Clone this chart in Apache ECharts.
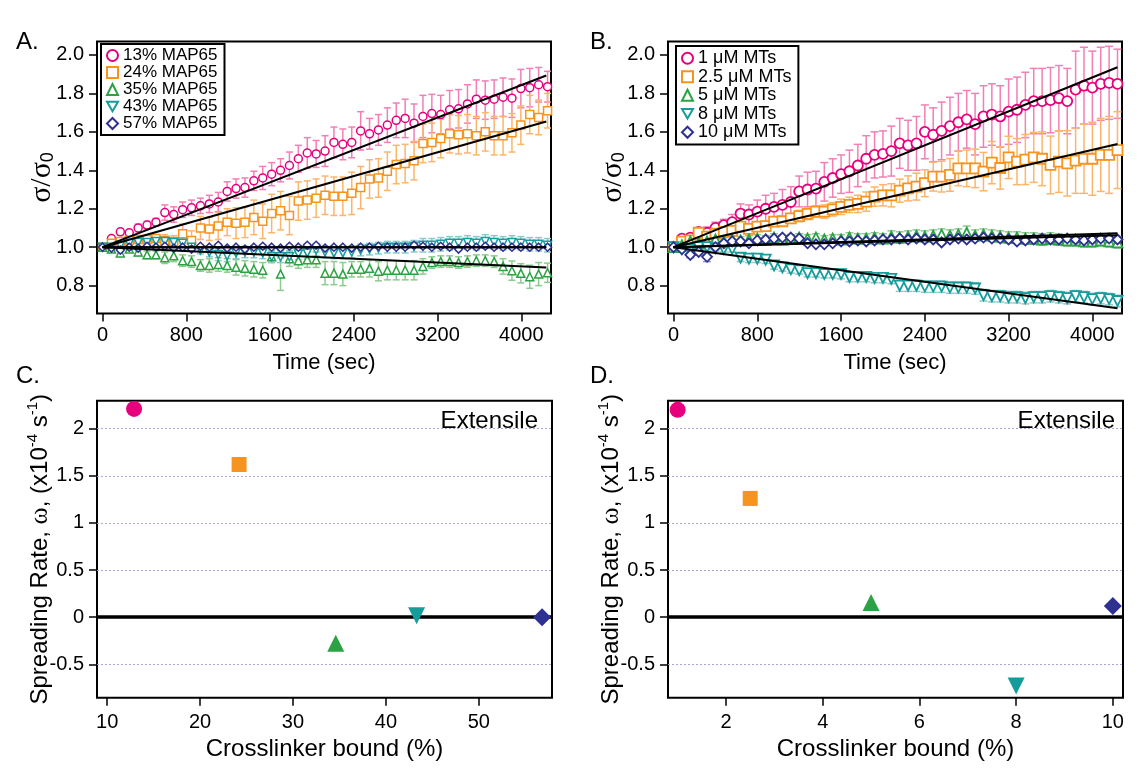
<!DOCTYPE html>
<html lang="en">
<head>
<meta charset="UTF-8">
<title>Spreading rate vs crosslinker</title>
<script src="https://cdn.jsdelivr.net/npm/echarts@6/dist/echarts.min.js"></script>
<style>
    html, body { margin: 0; padding: 0; background: #fff; }
    #chart { width: 1142px; height: 780px; }
</style>
</head>
<body>
<div id="chart"></div>
<script>
// ---- data ----
// time points (sec), panel A and B
const timeA = [0,85,170,255,340,425,510,595,680,765,850,935,1020,1105,1190,1275,1360,1445,1530,1615,
    1700,1785,1870,1955,2040,2125,2210,2295,2380,2465,2550,2635,2720,2805,2890,2975,3060,3145,3230,3315,
    3400,3485,3570,3655,3740,3825,3910,3995,4080,4165,4250];
const timeB = [0,80,160,240,320,400,480,560,640,720,800,880,960,1040,1120,1200,1280,1360,1440,1520,
    1600,1680,1760,1840,1920,2000,2080,2160,2240,2320,2400,2480,2560,2640,2720,2800,2880,2960,3040,3120,
    3200,3280,3360,3440,3520,3600,3680,3760,3840,3920,4000,4080,4160,4240];

// panel A: sigma/sigma0 for 13/24/35/43/57 % MAP65
const map13 = [1.00,1.045,1.08,1.075,1.10,1.115,1.13,1.18,1.17,1.195,
    1.205,1.215,1.225,1.235,1.29,1.305,1.31,1.345,1.36,1.38,
    1.40,1.425,1.46,1.49,1.485,1.50,1.545,1.535,1.545,1.605,
    1.59,1.61,1.635,1.66,1.67,1.645,1.68,1.695,1.69,1.715,
    1.72,1.745,1.77,1.765,1.77,1.78,1.775,1.825,1.83,1.845,1.835];
const map13Err = [0,0.01,0.015,0.015,0.02,0.02,0.02,0.04,0.04,0.04,
    0.04,0.04,0.045,0.05,0.05,0.05,0.05,0.05,0.06,0.06,
    0.06,0.07,0.07,0.08,0.07,0.08,0.08,0.08,0.08,0.1,
    0.08,0.08,0.09,0.09,0.1,0.1,0.11,0.1,0.1,0.1,
    0.1,0.1,0.1,0.1,0.1,0.1,0.1,0.1,0.1,0.09,0.08];
const map24 = [1.00,1.02,1.03,1.035,1.04,1.04,1.045,1.035,1.03,1.07,
    1.035,1.10,1.095,1.11,1.13,1.125,1.13,1.155,1.135,1.175,
    1.19,1.165,1.24,1.245,1.255,1.27,1.265,1.265,1.28,1.31,
    1.355,1.36,1.395,1.43,1.435,1.45,1.54,1.545,1.565,1.59,
    1.585,1.59,1.58,1.60,1.58,1.58,1.595,1.635,1.69,1.675,1.71];
const map24Err = [0,0.01,0.015,0.02,0.02,0.02,0.02,0.03,0.03,0.05,
    0.05,0.06,0.06,0.07,0.07,0.08,0.08,0.09,0.09,0.1,
    0.1,0.1,0.1,0.1,0.1,0.1,0.1,0.1,0.11,0.11,
    0.1,0.1,0.1,0.1,0.1,0.1,0.1,0.1,0.1,0.1,
    0.1,0.1,0.1,0.1,0.1,0.1,0.1,0.1,0.1,0.09,0.09];
const map35 = [1.0,0.99,0.97,0.99,0.975,0.96,0.96,0.945,0.955,0.93,
    0.925,0.905,0.905,0.91,0.905,0.895,0.89,0.885,0.88,0.95,
    0.86,0.94,0.93,0.935,0.935,0.865,0.865,0.86,0.885,0.885,
    0.89,0.875,0.88,0.88,0.88,0.88,0.90,0.92,0.925,0.925,
    0.92,0.925,0.93,0.93,0.925,0.90,0.878,0.864,0.846,0.86,0.867];
const map35Err = [0,0.01,0.015,0.015,0.02,0.02,0.02,0.03,0.03,0.03,
    0.03,0.03,0.035,0.035,0.035,0.04,0.04,0.04,0.04,0.03,
    0.085,0.04,0.04,0.04,0.04,0.06,0.06,0.06,0.04,0.04,
    0.045,0.05,0.05,0.05,0.05,0.05,0.04,0.03,0.03,0.03,
    0.03,0.03,0.03,0.03,0.03,0.04,0.05,0.05,0.06,0.06,0.05];
const map43 = [1.0,1.0,1.01,1.02,1.025,1.025,1.03,1.03,1.025,1.02,
    1.0,0.985,0.975,0.96,0.955,0.97,0.975,0.975,0.97,0.95,
    0.95,0.95,0.965,0.97,0.985,0.975,0.97,0.97,0.975,0.985,
    0.99,0.995,1.0,1.0,1.0,1.005,1.01,1.01,1.015,1.02,
    1.02,1.025,1.02,1.03,1.025,1.02,1.025,1.02,1.015,1.015,1.01];
const map43Err = [0,0.01,0.01,0.015,0.02,0.02,0.02,0.02,0.02,0.02,
    0.02,0.02,0.025,0.03,0.03,0.03,0.03,0.03,0.03,0.03,
    0.03,0.03,0.03,0.03,0.03,0.03,0.03,0.03,0.03,0.03,
    0.03,0.03,0.03,0.03,0.03,0.03,0.035,0.035,0.035,0.035,
    0.035,0.035,0.035,0.035,0.035,0.035,0.035,0.035,0.035,0.035,0.035];
const map57 = [1.0,0.995,0.985,1.0,0.995,1.005,1.0,1.005,0.995,1.0,
    0.99,1.005,1.0,1.01,0.995,1.0,0.99,1.0,1.005,1.0,
    0.995,1.005,1.0,1.01,1.01,0.995,1.0,1.0,0.995,1.0,
    1.0,1.005,1.0,1.0,1.0,1.01,1.005,1.0,1.005,1.0,
    0.99,1.0,1.0,1.005,1.0,1.0,1.0,1.0,1.0,1.0,1.0];
const map57Err = [0,0.008,0.008,0.008,0.008,0.008,0.008,0.008,0.008,0.008,
    0.008,0.008,0.008,0.008,0.008,0.008,0.008,0.008,0.008,0.008,
    0.008,0.008,0.008,0.008,0.008,0.008,0.008,0.008,0.008,0.008,
    0.008,0.008,0.008,0.008,0.008,0.008,0.008,0.008,0.008,0.008,
    0.008,0.008,0.008,0.008,0.008,0.008,0.008,0.008,0.008,0.008,0.008];

// panel B: sigma/sigma0 for 1/2.5/5/8/10 uM MTs
const mt1 = [1.00,1.044,1.05,1.08,1.075,1.10,1.115,1.13,1.175,1.17,
    1.185,1.20,1.21,1.22,1.235,1.29,1.30,1.305,1.34,1.36,
    1.38,1.395,1.425,1.46,1.48,1.485,1.50,1.54,1.53,1.54,
    1.60,1.585,1.605,1.63,1.65,1.665,1.64,1.68,1.69,1.68,
    1.705,1.715,1.74,1.76,1.76,1.765,1.775,1.76,1.82,1.84,
    1.83,1.85,1.855,1.85];
const mt1Err = [0,0.01,0.02,0.02,0.03,0.03,0.03,0.04,0.05,0.05,
    0.06,0.07,0.07,0.08,0.08,0.08,0.09,0.09,0.1,0.1,
    0.1,0.11,0.11,0.12,0.12,0.12,0.13,0.13,0.13,0.14,
    0.14,0.14,0.15,0.15,0.15,0.15,0.16,0.16,0.16,0.16,
    0.17,0.17,0.17,0.17,0.17,0.17,0.17,0.17,0.2,0.2,
    0.19,0.19,0.19,0.18];
const mt25 = [1.00,1.029,1.035,1.075,1.055,1.07,1.08,1.085,1.107,1.095,
    1.107,1.11,1.133,1.135,1.15,1.162,1.173,1.185,1.185,1.197,
    1.21,1.22,1.225,1.237,1.263,1.27,1.27,1.294,1.306,1.315,
    1.333,1.367,1.367,1.376,1.41,1.41,1.41,1.393,1.44,1.412,
    1.467,1.445,1.456,1.467,1.46,1.428,1.445,1.436,1.45,1.46,
    1.46,1.48,1.48,1.505];
const mt25Err = [0,0.005,0.01,0.01,0.01,0.01,0.015,0.015,0.015,0.02,
    0.02,0.02,0.02,0.025,0.025,0.03,0.03,0.03,0.035,0.035,
    0.04,0.04,0.045,0.05,0.05,0.055,0.06,0.06,0.065,0.07,
    0.07,0.075,0.08,0.085,0.09,0.095,0.1,0.1,0.11,0.11,
    0.11,0.12,0.13,0.13,0.14,0.15,0.16,0.17,0.17,0.18,
    0.19,0.19,0.2,0.2];
const mt5 = [1.0,1.01,1.03,1.02,1.03,1.04,1.03,1.04,1.035,1.04,
    1.045,1.04,1.05,1.04,1.045,1.05,1.045,1.05,1.04,1.045,
    1.04,1.05,1.045,1.045,1.05,1.045,1.055,1.05,1.055,1.06,
    1.055,1.06,1.065,1.06,1.065,1.075,1.06,1.065,1.06,1.055,
    1.05,1.05,1.045,1.045,1.04,1.045,1.04,1.035,1.035,1.03,
    1.03,1.035,1.03,1.025];
const mt5Err = [0,0.01,0.015,0.02,0.02,0.02,0.02,0.02,0.02,0.02,
    0.02,0.02,0.02,0.02,0.02,0.02,0.02,0.02,0.02,0.02,
    0.025,0.025,0.025,0.025,0.025,0.025,0.03,0.03,0.03,0.03,
    0.03,0.03,0.03,0.03,0.03,0.035,0.03,0.03,0.03,0.03,
    0.03,0.03,0.03,0.03,0.03,0.03,0.03,0.03,0.03,0.03,
    0.03,0.03,0.03,0.03];
const mt8 = [1.0,0.99,0.99,1.0,1.0,0.995,0.99,0.99,0.945,0.94,
    0.94,0.935,0.905,0.895,0.885,0.88,0.865,0.865,0.86,0.86,
    0.86,0.845,0.845,0.845,0.84,0.84,0.835,0.80,0.80,0.80,
    0.795,0.795,0.795,0.79,0.79,0.79,0.785,0.75,0.745,0.745,
    0.74,0.74,0.735,0.74,0.74,0.745,0.74,0.735,0.745,0.74,
    0.73,0.735,0.73,0.72];
const mt8Err = [0,0.01,0.01,0.01,0.015,0.015,0.015,0.015,0.02,0.02,
    0.02,0.02,0.02,0.02,0.02,0.02,0.02,0.02,0.02,0.02,
    0.025,0.025,0.025,0.025,0.025,0.025,0.025,0.03,0.03,0.03,
    0.03,0.03,0.03,0.03,0.03,0.03,0.03,0.03,0.03,0.03,
    0.03,0.03,0.03,0.03,0.03,0.03,0.03,0.03,0.03,0.03,
    0.03,0.03,0.03,0.03];
const mt10 = [1.0,0.99,0.96,0.975,0.95,1.0,1.02,1.03,1.03,1.02,
    1.035,1.04,1.045,1.05,1.05,1.045,1.02,1.015,1.015,1.02,
    1.03,1.03,1.035,1.03,1.035,1.04,1.04,1.045,1.04,1.045,
    1.04,1.04,1.025,1.04,1.045,1.04,1.045,1.05,1.045,1.045,
    1.04,1.03,1.035,1.04,1.045,1.04,1.04,1.045,1.04,1.035,
    1.04,1.045,1.045,1.04];
const mt10Err = [0,0.01,0.015,0.015,0.025,0.01,0.01,0.01,0.01,0.01,
    0.01,0.01,0.01,0.01,0.01,0.01,0.01,0.01,0.01,0.01,
    0.01,0.01,0.01,0.01,0.01,0.01,0.01,0.01,0.01,0.01,
    0.01,0.01,0.01,0.01,0.01,0.01,0.01,0.01,0.01,0.01,
    0.01,0.01,0.01,0.01,0.01,0.01,0.01,0.01,0.01,0.01,
    0.01,0.01,0.01,0.01];

// linear fits: value at end time (all start at 1.0 at t=0)
const fitEndTimeA = 4238;
const fitEndA = [1.893, 1.654, 0.894, 1.0, 1.0];
const fitEndTimeB = 4240;
const fitEndB = [1.936, 1.537, 1.072, 0.682, 1.062];

// panels C and D: spreading rate (x1e-4 /s) vs crosslinker bound (%)
const boundC = [12.9, 24.2, 34.6, 43.3, 56.8];
const rateC = [2.21, 1.62, -0.275, 0.015, 0.0];
const boundD = [1, 2.5, 5, 8, 10];
const rateD = [2.2, 1.26, 0.155, -0.73, 0.12];

const namesA = ['13% MAP65', '24% MAP65', '35% MAP65', '43% MAP65', '57% MAP65'];
const namesB = ['1 μM MTs', '2.5 μM MTs', '5 μM MTs', '8 μM MTs', '10 μM MTs'];

const ticksTime = [0, 800, 1600, 2400, 3200, 4000];
const ticksSigma = [0.8, 1.0, 1.2, 1.4, 1.6, 1.8, 2.0];
const ticksBoundC = [10, 20, 30, 40, 50];
const ticksBoundD = [2, 4, 6, 8, 10];
const ticksRate = [-0.5, 0, 0.5, 1, 1.5, 2];
const gridRate = [-0.5, 0.5, 1, 1.5, 2];

// ---- style ----
const FONT = 'Liberation Sans';
const COLORS = ['#e6007e', '#f7941d', '#2ba243', '#179c9c', '#2e3192'];
const BAR_COLORS = ['#f27fb5', '#fcb56b', '#8dcb90', '#8ccaca', '#8f91c9'];
const DOWN = 'path://M0,0 L20,0 L10,17.3 Z';
const SYMBOLS = ['circle', 'rect', 'triangle', DOWN, 'diamond'];
const RATE_SIZES = [16, 15, 17, 17, 18];

function errorBars(cap) {
    return function (params, api) {
        const x = api.value(0), y = api.value(1), e = api.value(2);
        if (!e) return;
        const hi = api.coord([x, y + e]);
        const lo = api.coord([x, y - e]);
        const style = { stroke: api.visual('color'), lineWidth: 1.5 };
        return {
            type: 'group',
            children: [
                { type: 'line', shape: { x1: hi[0], y1: hi[1], x2: lo[0], y2: lo[1] }, style: style },
                { type: 'line', shape: { x1: hi[0] - cap, y1: hi[1], x2: hi[0] + cap, y2: hi[1] }, style: style },
                { type: 'line', shape: { x1: lo[0] - cap, y1: lo[1], x2: lo[0] + cap, y2: lo[1] }, style: style }
            ]
        };
    };
}

function timeSeries(gi, times, vals, errs, names, fitT, fitEnd, size, bw, cap) {
    const out = [];
    names.forEach(function (name, i) {
        out.push({
            type: 'custom', xAxisIndex: gi, yAxisIndex: gi, z: 2, silent: true,
            itemStyle: { color: BAR_COLORS[i] },
            renderItem: errorBars(cap),
            data: times.map(function (t, j) { return [t, vals[i][j], errs[i][j]]; })
        });
    });
    names.forEach(function (name, i) {
        out.push({
            type: 'scatter', name: name, xAxisIndex: gi, yAxisIndex: gi, z: 3, silent: true,
            symbol: SYMBOLS[i], symbolSize: size,
            itemStyle: { color: '#fff', borderColor: COLORS[i], borderWidth: bw, opacity: 1 },
            emphasis: { disabled: true },
            data: times.map(function (t, j) { return [t, vals[i][j]]; })
        });
    });
    names.forEach(function (name, i) {
        out.push({
            type: 'line', xAxisIndex: gi, yAxisIndex: gi, z: 4, silent: true,
            symbol: 'none', lineStyle: { color: '#000', width: 2 },
            data: [[0, 1.0], [fitT, fitEnd[i]]]
        });
    });
    return out;
}

function rateSeries(gi, xs, ys) {
    return [{
        // reference lines: dotted grid + bold zero line
        type: 'scatter', xAxisIndex: gi, yAxisIndex: gi, z: 1, silent: true, symbolSize: 0,
        data: xs.map(function (x, i) { return [x, ys[i]]; }),
        markLine: {
            silent: true, symbol: 'none', label: { show: false },
            data: gridRate.map(function (v) {
                return { yAxis: v, lineStyle: { color: '#a6a6d8', type: [2, 2], width: 1 } };
            }).concat([{ yAxis: 0, lineStyle: { color: '#000', type: 'solid', width: 3.5 } }])
        }
    }, {
        type: 'scatter', xAxisIndex: gi, yAxisIndex: gi, z: 5, silent: true,
        emphasis: { disabled: true },
        data: xs.map(function (x, i) {
            return {
                value: [x, ys[i]], symbol: SYMBOLS[i],
                symbolSize: RATE_SIZES[i], itemStyle: { color: COLORS[i], opacity: 1 }
            };
        })
    }];
}

const labelStyle = { color: '#000', fontFamily: FONT, fontSize: 20 };
const tickStyle = { show: true, inside: false, length: 8, lineStyle: { color: '#000', width: 1.5 } };

function fmtPlain(v) { return String(v); }
function fmt1(v) { return v.toFixed(1); }

function xAxis(gi, min, max, ticks, name, margin, gap) {
    return {
        gridIndex: gi, type: 'value', min: min, max: max,
        axisLine: { show: false, onZero: false },
        axisTick: Object.assign({ customValues: ticks }, tickStyle),
        axisLabel: Object.assign({ customValues: ticks, margin: margin, formatter: fmtPlain }, labelStyle),
        splitLine: { show: false },
        name: name, nameLocation: 'middle', nameGap: gap,
        nameTextStyle: { color: '#000', fontFamily: FONT, fontSize: name === 'Time (sec)' ? 22 : 24 }
    };
}

function yAxis(gi, min, max, ticks, fmt, name, rich, gap) {
    return {
        gridIndex: gi, type: 'value', min: min, max: max,
        axisLine: { show: false, onZero: false },
        axisTick: Object.assign({ customValues: ticks }, tickStyle),
        axisLabel: Object.assign({ customValues: ticks, margin: 13, formatter: fmt }, labelStyle),
        splitLine: { show: false },
        name: name, nameLocation: 'middle', nameRotate: 90, nameGap: gap, nameMoveOverlap: false,
        nameTextStyle: { color: '#000', fontFamily: FONT, rich: rich }
    };
}

const sigmaRich = {
    a: { fontFamily: 'Liberation Serif', fontSize: 30, color: '#000' },
    b: { fontFamily: FONT, fontSize: 18, color: '#000', verticalAlign: 'bottom', padding: [11, 0, 0, 0] }
};
const rateRich = {
    t: { fontFamily: FONT, fontSize: 24, color: '#000', lineHeight: 30 },
    w: { fontFamily: 'Liberation Serif', fontSize: 26, color: '#000', lineHeight: 30 },
    s: { fontFamily: FONT, fontSize: 15, color: '#000', verticalAlign: 'top', lineHeight: 14 }
};
const sigmaName = '{a|σ/σ}{b|0}';
const rateName = '{t|Spreading Rate, }{w|ω}{t|, (x10}{s|-4}{t| s}{s|-1}{t|)}';

function legend(left, top, names, fontSize, rowH) {
    return {
        left: left, top: top, orient: 'vertical', data: names, selectedMode: false,
        itemWidth: 11, itemHeight: 11, itemGap: 0, padding: [3, 7, 3, 5],
        borderColor: '#000', borderWidth: 2, backgroundColor: '#fff',
        textStyle: { color: '#000', fontFamily: FONT, fontSize: fontSize, lineHeight: rowH }
    };
}

function letter(txt, x, y) {
    return { type: 'text', x: x, y: y, style: { text: txt, fill: '#000', font: '24px "Liberation Sans"', verticalAlign: 'middle', textVerticalAlign: 'middle' } };
}
function extensile(x, y) {
    return { type: 'text', x: x, y: y, z: 10, style: { text: 'Extensile', fill: '#000', font: '24px "Liberation Sans"', align: 'right', textAlign: 'right', verticalAlign: 'middle', textVerticalAlign: 'middle' } };
}

const chart = echarts.init(document.getElementById('chart'), null, { renderer: 'canvas' });
const gridStyle = { show: true, borderColor: '#000', borderWidth: 2, backgroundColor: 'transparent', containLabel: false };

chart.setOption({
    animation: false,
    backgroundColor: '#fff',
    textStyle: { fontFamily: FONT },
    grid: [
        Object.assign({ left: 97, top: 41.5, width: 454, height: 272 }, gridStyle),
        Object.assign({ left: 668, top: 41.5, width: 454, height: 272 }, gridStyle),
        Object.assign({ left: 97, top: 400.7, width: 455, height: 297 }, gridStyle),
        Object.assign({ left: 668, top: 400.7, width: 455, height: 297 }, gridStyle)
    ],
    xAxis: [
        xAxis(0, -53, 4283, ticksTime, 'Time (sec)', 12, 38),
        xAxis(1, -53, 4283, ticksTime, 'Time (sec)', 12, 38),
        xAxis(2, 8.91, 57.87, ticksBoundC, 'Crosslinker bound (%)', 15, 40),
        xAxis(3, 0.8, 10.21, ticksBoundD, 'Crosslinker bound (%)', 15, 40)
    ],
    yAxis: [
        yAxis(0, 0.655, 2.07, ticksSigma, fmt1, sigmaName, sigmaRich, 40),
        yAxis(1, 0.655, 2.07, ticksSigma, fmt1, sigmaName, sigmaRich, 40),
        yAxis(2, -0.854, 2.297, ticksRate, fmtPlain, rateName, rateRich, 42),
        yAxis(3, -0.854, 2.297, ticksRate, fmtPlain, rateName, rateRich, 42)
    ],
    legend: [
        legend(101, 44, namesA, 17, 16.5),
        legend(676, 46, namesB, 18, 18.5)
    ],
    graphic: [
        letter('A.', 16, 42),
        letter('B.', 590, 42),
        letter('C.', 16, 376),
        letter('D.', 590, 376),
        extensile(538, 421),
        extensile(1115, 421)
    ],
    series: [].concat(
        timeSeries(0, timeA, [map13, map24, map35, map43, map57],
            [map13Err, map24Err, map35Err, map43Err, map57Err], namesA, fitEndTimeA, fitEndA, 8, 1.5, 3.5),
        timeSeries(1, timeB, [mt1, mt25, mt5, mt8, mt10],
            [mt1Err, mt25Err, mt5Err, mt8Err, mt10Err], namesB, fitEndTimeB, fitEndB, 10, 1.8, 4),
        rateSeries(2, boundC, rateC),
        rateSeries(3, boundD, rateD)
    )
});
</script>
</body>
</html>
